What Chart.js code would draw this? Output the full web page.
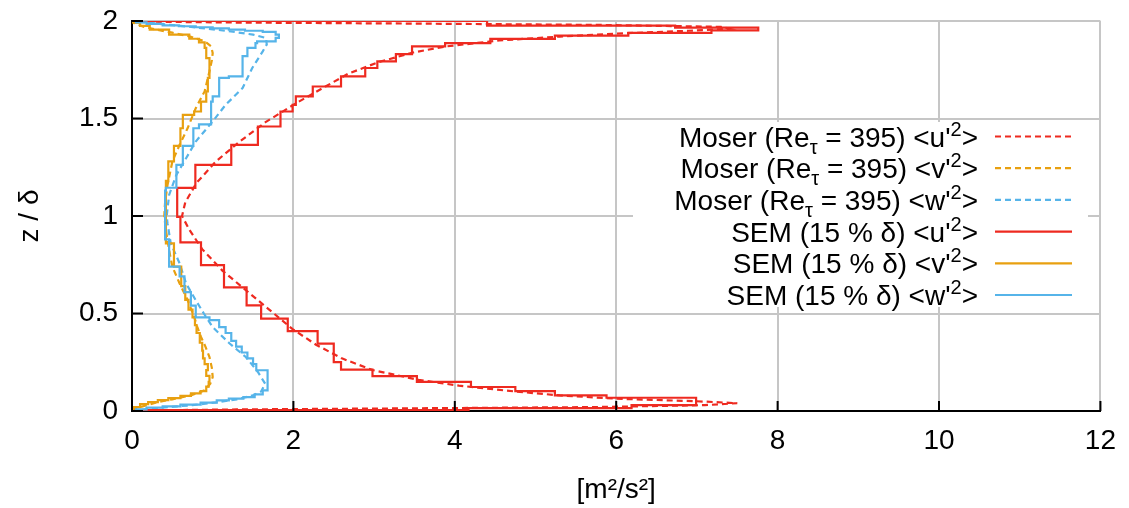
<!DOCTYPE html>
<html><head><meta charset="utf-8">
<script src="https://cdn.jsdelivr.net/npm/chart.js@4"></script>
<style>html,body{margin:0;padding:0;background:#fff}</style>
</head><body>
<canvas id="c" width="1129" height="508"></canvas>
<script>
// ---------- data (x = value in m^2/s^2, z = z/delta) ----------
const xTickLabels = ['0','2','4','6','8','10','12'];
const yTickLabels = ['0','0.5','1','1.5','2'];

const moserU_z = [0,0.004,0.008,0.013,0.02,0.03,0.04,0.05,0.063,0.08,0.1,0.13,0.16,0.21,0.27,0.34,0.42,0.52,0.62,0.72,0.83,0.93,1.0,1.07,1.17,1.28,1.38,1.48,1.58,1.66,1.73,1.79,1.84,1.87,1.9,1.92,1.937,1.95,1.96,1.97,1.98,1.987,1.992,1.996,2.0];
const moserU_x = [0,0.35,1.3,3.2,5.7,7.1,7.5,7.0,6.0,5.3,4.75,4.05,3.55,2.98,2.6,2.28,1.99,1.70,1.41,1.12,0.87,0.71,0.62,0.66,0.8,1.04,1.33,1.65,2.04,2.38,2.68,3.06,3.5,3.9,4.55,5.3,6.1,6.9,7.4,7.3,5.8,3.4,1.3,0.35,0];

const moserV_z = [0,0.01,0.02,0.03,0.046,0.06,0.08,0.106,0.14,0.174,0.22,0.277,0.33,0.38,0.43,0.483,0.568,0.654,0.74,0.825,0.928,1.0,1.07,1.159,1.279,1.365,1.451,1.553,1.639,1.742,1.8,1.836,1.87,1.896,1.92,1.94,1.956,1.97,1.985,2.0];
const moserV_x = [0,0.03,0.1,0.19,0.32,0.5,0.73,0.9,0.97,1.0,0.99,0.96,0.91,0.855,0.81,0.77,0.69,0.59,0.50,0.46,0.42,0.40,0.41,0.44,0.50,0.59,0.69,0.79,0.90,0.96,0.99,1.0,0.98,0.9,0.72,0.5,0.3,0.15,0.04,0];

const moserW_z = [0,0.01,0.02,0.03,0.045,0.06,0.08,0.1,0.14,0.2,0.277,0.346,0.43,0.5,0.568,0.654,0.757,0.86,0.962,1.0,1.108,1.211,1.296,1.382,1.485,1.57,1.656,1.759,1.844,1.88,1.913,1.93,1.945,1.96,1.975,1.99,2.0];
const moserW_x = [0,0.2,0.45,0.75,1.05,1.3,1.5,1.6,1.65,1.56,1.41,1.21,1.0,0.89,0.79,0.67,0.59,0.48,0.44,0.43,0.46,0.55,0.67,0.79,1.0,1.16,1.37,1.49,1.62,1.67,1.66,1.5,1.25,0.95,0.6,0.22,0];

const semU_z = [0,0.004,0.015,0.03,0.068,0.08,0.102,0.123,0.149,0.179,0.212,0.251,0.346,0.41,0.474,0.542,0.634,0.748,0.865,0.996,1.144,1.262,1.365,1.459,1.536,1.570,1.613,1.664,1.716,1.759,1.793,1.83,1.87,1.887,1.908,1.925,1.939,1.952,1.966,1.976,2.0];
const semU_x = [0,4.17,6.19,6.99,5.88,5.24,4.75,4.2,3.53,2.98,2.59,2.50,2.30,1.93,1.60,1.42,1.14,0.855,0.60,0.56,0.785,1.23,1.56,1.84,1.99,2.03,2.24,2.59,2.89,3.04,3.27,3.47,3.88,4.44,5.24,6.15,7.18,7.76,6.73,4.4,0];

const semV_z = [0,0.02,0.035,0.046,0.056,0.066,0.078,0.09,0.102,0.125,0.15,0.18,0.21,0.24,0.27,0.31,0.35,0.40,0.44,0.48,0.52,0.57,0.64,0.74,0.86,1.18,1.28,1.36,1.45,1.519,1.536,1.587,1.639,1.708,1.76,1.81,1.862,1.89,1.909,1.93,1.956,1.975,1.99,2.0];
const semV_x = [0.02,0.1,0.2,0.32,0.45,0.6,0.73,0.85,0.92,0.95,0.96,0.92,0.94,0.90,0.88,0.87,0.84,0.80,0.78,0.75,0.70,0.66,0.61,0.52,0.42,0.45,0.52,0.60,0.63,0.77,0.855,0.92,0.94,0.96,0.96,0.92,0.90,0.83,0.71,0.46,0.22,0.10,0.02,0];

const semW_z = [0,0.008,0.017,0.024,0.033,0.043,0.054,0.063,0.071,0.085,0.106,0.209,0.24,0.27,0.30,0.33,0.36,0.40,0.43,0.466,0.48,0.54,0.61,0.69,0.74,0.88,1.13,1.145,1.262,1.36,1.45,1.47,1.587,1.613,1.708,1.716,1.82,1.862,1.887,1.896,1.913,1.93,1.944,1.95,1.956,1.962,1.968,1.973,1.978,1.985,1.993,2.0];
const semW_x = [0.05,0.18,0.38,0.6,0.85,1.05,1.2,1.38,1.52,1.62,1.68,1.54,1.5,1.43,1.36,1.29,1.23,1.16,1.08,0.96,0.79,0.73,0.65,0.59,0.46,0.41,0.42,0.55,0.63,0.76,0.83,0.98,1.0,1.08,1.2,1.37,1.43,1.53,1.55,1.78,1.82,1.78,1.62,1.4,1.2,1.0,0.79,0.58,0.38,0.18,0.05,0];

const seriesLabels = [
  [['Moser (Re',''],['τ','sub'],[" = 395) <u'",''],['2','sup'],['>','']],
  [['Moser (Re',''],['τ','sub'],[" = 395) <v'",''],['2','sup'],['>','']],
  [['Moser (Re',''],['τ','sub'],[" = 395) <w'",''],['2','sup'],['>','']],
  [["SEM (15 % δ) <u'",''],['2','sup'],['>','']],
  [["SEM (15 % δ) <v'",''],['2','sup'],['>','']],
  [["SEM (15 % δ) <w'",''],['2','sup'],['>','']]
];
const xTitle = '[m²/s²]';
const yTitle = 'z / δ';

// ---------- styles ----------
const RED = '#ee2a20', ORANGE = '#e8a010', BLUE = '#56b4e9';
const FONT = 'Liberation Sans, Arial, Helvetica, sans-serif';
const FS = 28, FSS = 20;

function pts(xs, zs){ return zs.map((z,i)=>({x:xs[i], y:z})); }

const datasets = [
  {data:pts(moserU_x,moserU_z), borderColor:RED, borderDash:[6,4]},
  {data:pts(moserV_x,moserV_z), borderColor:ORANGE, borderDash:[6,4]},
  {data:pts(moserW_x,moserW_z), borderColor:BLUE, borderDash:[6,4]},
  {data:pts(semU_x,semU_z), borderColor:RED, stepped:'after'},
  {data:pts(semV_x,semV_z), borderColor:ORANGE, stepped:'after'},
  {data:pts(semW_x,semW_z), borderColor:BLUE, stepped:'after'}
].map((d,i)=>Object.assign({showLine:true, pointRadius:0, borderWidth:2.2, fill:false, tension:0, order:6-i}, d));

const legendBox = {
  id:'legendBox',
  beforeDatasetsDraw(chart){
    const ctx = chart.ctx;
    ctx.save(); ctx.fillStyle='#fff'; ctx.fillRect(633,122,455,185); ctx.restore();
  },
  afterDraw(chart){
    const ctx = chart.ctx;
    const a = chart.chartArea;
    const xs = chart.scales.x, ys = chart.scales.y;
    ctx.save();
    // inward ticks
    ctx.strokeStyle='#000'; ctx.lineWidth=2;
    xs.ticks.forEach(t=>{ const px = xs.getPixelForValue(t.value);
      ctx.beginPath(); ctx.moveTo(px,a.bottom); ctx.lineTo(px,a.bottom-10); ctx.stroke(); });
    ys.ticks.forEach(t=>{ const py = ys.getPixelForValue(t.value);
      ctx.beginPath(); ctx.moveTo(a.left,py); ctx.lineTo(a.left+11,py); ctx.stroke(); });
    // legend
    const right = 978, x0 = 995, x1 = 1072;
    seriesLabels.forEach((parts,i)=>{
      const cy = 136.5 + i*31.7;
      const base = cy + 10;
      let w = 0;
      parts.forEach(([t,k])=>{ ctx.font = (k? FSS: FS)+'px '+FONT; w += ctx.measureText(t).width; });
      let x = right - w;
      ctx.fillStyle='#000'; ctx.textBaseline='alphabetic'; ctx.textAlign='left';
      parts.forEach(([t,k])=>{
        ctx.font = (k? FSS: FS)+'px '+FONT;
        const dy = k==='sub' ? 7 : (k==='sup' ? -11 : 0);
        ctx.fillText(t, x, base+dy);
        x += ctx.measureText(t).width;
      });
      const ds = chart.data.datasets[i];
      ctx.strokeStyle = ds.borderColor; ctx.lineWidth = 2.2;
      ctx.setLineDash(ds.borderDash || []);
      ctx.beginPath(); ctx.moveTo(x0,cy); ctx.lineTo(x1,cy); ctx.stroke();
      ctx.setLineDash([]);
    });
    ctx.restore();
  }
};

new Chart(document.getElementById('c'), {
  type:'scatter',
  data:{datasets},
  plugins:[legendBox],
  options:{
    responsive:false, animation:false, devicePixelRatio:1,
    layout:{padding:{left:0,right:24,top:21,bottom:0}},
    plugins:{legend:{display:false}, tooltip:{enabled:false}},
    scales:{
      x:{type:'linear', min:0, max:12,
        ticks:{stepSize:2, color:'#000', font:{family:FONT,size:FS,lineHeight:1.2}, padding:13, maxRotation:0,
          callback:(v,i)=>xTickLabels[i]},
        grid:{color:'#c6c6c6', lineWidth:2, drawTicks:false},
        border:{color:'#000', width:2},
        title:{display:true, text:xTitle, color:'#000', font:{family:FONT,size:FS}, padding:{top:0,bottom:1}},
        afterFit:s=>{s.height=97;}
      },
      y:{type:'linear', min:0, max:2,
        ticks:{stepSize:0.5, color:'#000', font:{family:FONT,size:FS,lineHeight:0.4}, padding:14,
          callback:(v,i)=>yTickLabels[i]},
        grid:{color:'#c6c6c6', lineWidth:2, drawTicks:false},
        border:{color:'#000', width:2},
        title:{display:true, text:yTitle, color:'#000', font:{family:FONT,size:FS}, padding:{top:13,bottom:0}},
        afterFit:s=>{s.width=132;}
      }
    }
  }
});
</script>
</body></html>
